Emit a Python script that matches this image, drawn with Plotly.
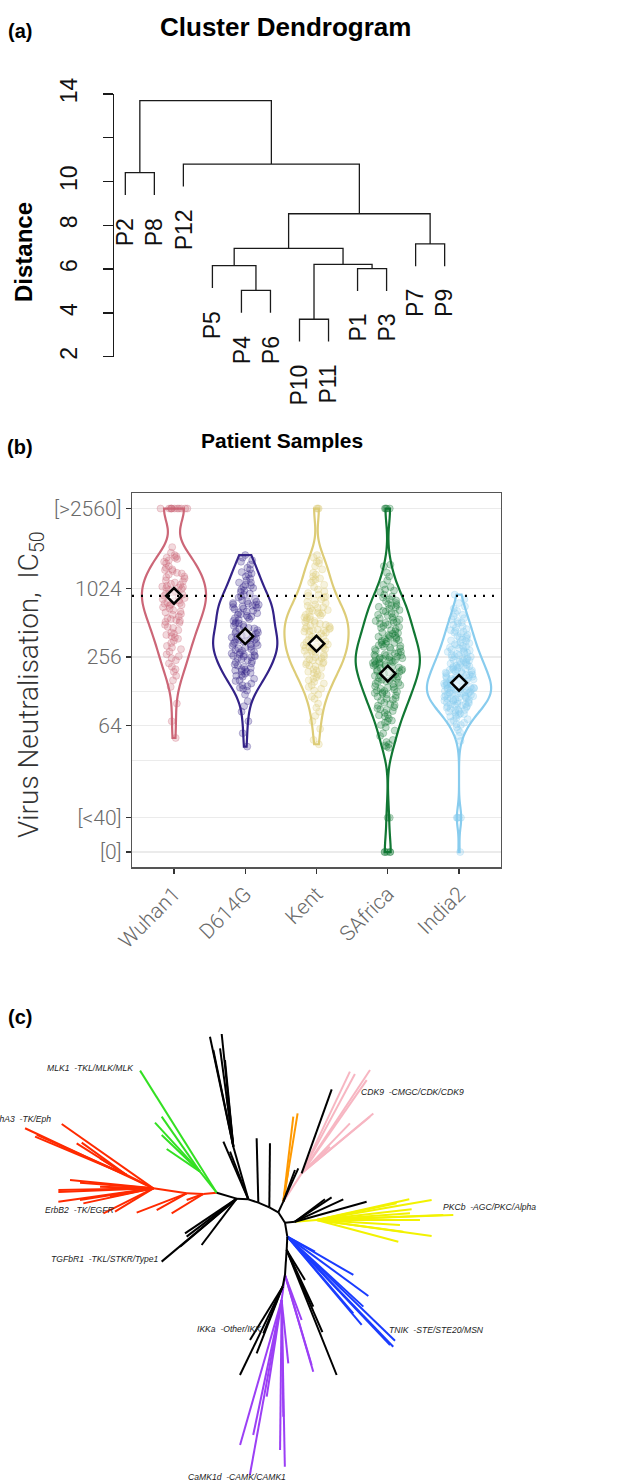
import math
import numpy as np
import plotly.graph_objects as go

W, H = 639, 1483

# ---------------- (a) Cluster dendrogram data ----------------
leaf_order = ["P2", "P8", "P12", "P5", "P4", "P6", "P10", "P11", "P1", "P3", "P7", "P9"]
merge_id = ["m1", "m2", "m3", "m4", "m5", "m6", "m7", "m8", "m9", "m10", "m11"]
merge_a = ["P4", "P10", "P1", "P7", "P5", "m2", "m5", "m7", "P12", "P2", "m10"]
merge_b = ["P6", "P11", "P3", "P9", "m1", "m3", "m6", "m4", "m8", "P8", "m9"]
merge_height = [5.03, 3.71, 6.02, 7.15, 6.16, 6.22, 6.95, 8.53, 10.80, 10.41, 13.70]
dist_ticks = [2, 4, 6, 8, 10, 14]
dist_tick_text = ["2", "4", "6", "8", "10", "14"]
dist_minor_ticks = [12]
HANG = 1.02

# ---------------- (b) Virus neutralisation data ----------------
variants = ["Wuhan1", "D614G", "Kent", "SAfrica", "India2"]
ic50_wuhan1 = [5120, 5120, 5120, 5120, 5120, 5120, 5120, 5120, 5120, 5120, 5120,
               2350, 2100, 1950, 1900, 1850, 2000, 1900, 1800, 1750, 1700, 1600, 1550, 1500, 1450, 1480,
               1400, 1380, 1350, 1300, 1280, 1250, 1200, 1180, 1150, 1120, 1100, 1080, 1060, 1050, 1040, 1030,
               1010, 990, 960, 940, 920, 900, 880, 860, 840, 820, 800, 790, 770, 760, 750, 740, 730,
               720, 700, 680, 660, 640, 630, 610, 600, 580, 560, 550, 540, 530, 520,
               510, 490, 470, 460, 440, 420, 410, 400, 390, 380, 370,
               355, 340, 320, 310, 300, 285, 270, 260, 250, 240, 225, 210, 200, 190,
               175, 160, 140, 100, 70, 50]
ic50_d614g = [2000, 1900, 1800, 1750, 1650, 1550, 1500,
              1420, 1380, 1350, 1300, 1250, 1200, 1150, 1150, 1100, 1080, 1050, 1030,
              1000, 980, 950, 920, 900, 870, 850, 830, 810, 790, 780, 760, 750, 740, 735, 728,
              720, 710, 700, 690, 680, 670, 650, 640, 630, 620, 610, 600, 590, 580, 570, 560, 550, 540, 530, 515,
              505, 500, 490, 480, 470, 460, 455, 450, 440, 430, 420, 415, 410, 400, 395, 390, 385, 380, 375, 370, 365, 363,
              360, 355, 350, 345, 340, 335, 330, 325, 320, 315, 310, 305, 300, 295, 290, 285, 280, 275, 270, 268, 265, 262, 260, 258,
              255, 250, 245, 240, 235, 230, 225, 220, 215, 210, 205, 200, 198, 195, 192, 190, 186, 183,
              178, 175, 172, 165, 160, 158, 150, 145, 142, 138, 135, 130, 120, 105, 95, 85, 70, 55, 42]
ic50_kent = [5120, 5120, 5120,
             2000, 1900, 1800, 1750, 1700, 1600, 1500, 1400, 1350, 1300, 1250, 1220,
             1200, 1150, 1100, 1050, 1000, 960, 930, 900, 880, 865,
             850, 820, 800, 780, 760, 740, 720, 700, 690, 680, 660, 650, 640, 630, 620, 612,
             600, 590, 580, 570, 560, 550, 540, 530, 520, 510, 500, 490, 480, 475, 470, 460, 455, 450, 445, 440, 436, 432,
             428, 420, 410, 400, 390, 385, 380, 370, 360, 350, 345, 340, 330, 325, 320, 315, 312, 310, 308, 305,
             300, 295, 290, 285, 280, 270, 265, 260, 255, 250, 245, 240, 235, 230, 228, 225, 220, 216,
             212, 205, 200, 195, 190, 185, 180, 175, 170, 165, 160, 155,
             150, 145, 140, 135, 130, 120, 115, 110, 100, 92, 85, 78, 70, 60, 48, 44]
ic50_safrica = [5120, 5120, 5120, 5120, 1650, 1600, 1400, 1300, 1200, 1100, 1050,
                1000, 980, 950, 900, 870, 850, 820, 800, 790, 760, 745, 730,
                720, 705, 700, 680, 660, 650, 640, 620, 610, 600, 590, 570, 560, 545, 540, 530, 520, 515,
                510, 500, 490, 480, 470, 460, 450, 440, 430, 420, 415, 410, 400, 395, 390, 385, 380, 375, 370, 365,
                360, 355, 350, 345, 340, 335, 330, 325, 320, 315, 310, 305, 300, 295, 290, 285, 280, 275, 270, 268, 265, 262, 260, 258,
                255, 252, 250, 247, 245, 242, 240, 237, 235, 232, 230, 227, 225, 222, 220, 217, 215, 212, 210, 207, 205, 200, 197, 195,
                192, 190, 187, 183,
                180, 177, 175, 172, 170, 168, 165, 162, 160, 157, 155, 152, 150, 148, 145, 142, 140, 138, 135, 133, 130, 129,
                127, 125, 124, 122, 120, 118, 115, 112, 110, 108, 106, 102, 99, 97, 96, 93, 91,
                89, 88, 86, 83, 80, 79, 77, 74, 71, 70, 68, 65, 62, 58, 55, 52, 48, 46, 44, 43, 42, 41,
                10, 10, 5, 5, 5, 5, 5]
ic50_india2 = [900, 820, 760,
               710, 680, 650, 620,
               600, 580, 560, 545, 530, 515,
               505, 490, 475, 462, 450, 440, 433,
               428, 420, 410, 400, 392, 385, 377, 370, 364,
               358, 352, 345, 338, 332, 326, 320, 315, 310, 306,
               302, 297, 292, 288, 284, 280, 276, 272, 268, 264, 260, 257,
               254, 251, 248, 245, 242, 239, 236, 233, 230, 227, 224, 221, 218, 216,
               214, 212, 210, 207, 205, 203, 201, 199, 197, 195, 193, 191, 189, 187, 185, 183,
               180, 178, 177, 175, 174, 172, 171, 169, 168, 166, 165, 163, 162, 160, 159, 157, 156, 154, 153,
               151, 150, 149, 147, 146, 145, 144, 142, 141, 140, 139, 138, 137, 136, 135, 134, 133, 132, 131, 130, 129,
               127, 126, 125, 124, 123, 122, 121, 120, 119, 118, 117, 116, 115, 114, 113, 112, 111, 110, 109, 108,
               107, 106, 105, 104, 103, 102, 101, 100, 99, 98, 97, 96, 95, 94, 93, 92,
               90, 89, 88, 87, 86, 85, 83, 82, 81, 80, 78, 77,
               75, 73, 71, 69, 68, 66, 65, 62, 59, 56, 52, 47,
               10, 10, 10, 10, 5]
ic50_groups = [ic50_wuhan1, ic50_d614g, ic50_kent, ic50_safrica, ic50_india2]
mean_ic50 = [880, 389, 335, 183, 152]
ic50_ticks = [5, 10, 64, 256, 1024, 5120]
ic50_tick_text = ["[0]", "[<40]", "64", "256", "1024", "[>2560]"]
ic50_minor = [32, 128, 512, 2048]
variant_colors = ["#CC6677", "#332288", "#DDCC77", "#117733", "#88CCEE"]

# ---------------- (c) Kinome tree data: (node, parent, angle deg, branch length) ----------------
branches_backbone = [
    ("B1", "B0", -16.7, 62.6), ("B2", "B1", -3.3, 35.1), ("B3", "B2", -18.4, 31.6),
    ("B4", "B3", -23.0, 35.8), ("B5", "B4", -29.1, 30.9), ("B6", "B5", -57.2, 36.9),
    ("B7", "B6", -80.5, 42.6), ("B8", "B7", -92.9, 40.0), ("B9", "B8", -93.8, 75.2),
    ("B10", "B9", -101.3, 35.7), ("T0", "B2", 105.9, 164.3), ("P0", "B5", 64.9, 35.3),
    ("Y0", "B6", 5.7, 30.1),
]
branches_tk = [
    ("R0", "B0", 185.7, 40.2), ("R1", "R0", 177.7, 50.0), ("R2", "R1", 171.5, 101.1), ("R3", "R2", 153.4, 89.4),
    ("r1", "R0", 211.4, 111.3), ("r2", "R0", 199.8, 53.1), ("r3", "R1", 201.1, 160.8), ("r4", "R1", 209.1, 103.0),
    ("r5", "R2", 206.6, 167.7), ("r6", "R2", 211.3, 134.6), ("r7", "R2", 154.9, 425.0), ("r8", "R2", 144.9, 336.0),
    ("r9", "R3", 157.3, 298.0), ("r10", "R3", 156.0, 295.5), ("r11", "R3", 147.7, 177.6), ("r12", "R3", 144.3, 166.2),
    ("r13", "R3", 148.0, 94.3), ("r14", "R2", 181.0, 285.0), ("r15", "R2", 182.2, 285.2), ("r16", "R2", 174.3, 251.2),
    ("r17", "R2", 175.6, 220.7), ("r18", "R2", 178.2, 160.0), ("r19", "R2", 188.0, 287.8), ("r20", "R2", 189.0, 222.8),
    ("r21", "R2", 192.1, 214.8), ("r22", "R2", 190.9, 132.4),
]
branches_mlk = [
    ("G0", "B0", 128.4, 80.4), ("g1", "B0", 122.1, 432.3), ("g2", "G0", 132.6, 199.6),
    ("g3", "G0", 124.9, 201.1), ("g4", "G0", 136.3, 159.1), ("g5", "G0", 145.8, 120.9),
]
branches_orange = [
    ("o1", "P0", 80.8, 268.5), ("o2", "P0", 83.3, 256.8), ("o3", "P0", 81.0, 96.2),
]
branches_cmgc = [
    ("P1", "P0", 57.1, 101.2), ("p1", "P1", 56.5, 371.7), ("p2", "P1", 64.6, 337.7), ("p3", "P1", 61.8, 338.2),
    ("p4", "P1", 55.1, 341.2), ("p5", "P1", 39.9, 280.4), ("p6", "P1", 39.7, 266.3), ("p7", "P1", 46.0, 208.6),
    ("p8", "P1", 43.3, 116.7),
]
branches_agc = [
    ("Y1", "Y0", 4.4, 65.2), ("y1", "Y1", 12.6, 284.8), ("y2", "Y1", 9.9, 350.2), ("y3", "Y1", 2.1, 410.3),
    ("y4", "Y1", 2.3, 380.3), ("y5", "Y1", -7.9, 348.3), ("y6", "Y1", -14.9, 253.5), ("y7", "Y1", -3.4, 250.4),
    ("y8", "Y1", 6.4, 286.8), ("y9", "Y1", 4.1, 280.7), ("y10", "Y1", 0.0, 310.0), ("y11", "Y1", 11.8, 245.2),
    ("y12", "Y1", -7.7, 262.3),
]
branches_ste = [
    ("s1", "B7", -28.5, 94.4), ("s2", "B7", -30.1, 229.0), ("s3", "B7", -36.2, 301.2), ("s4", "B7", -46.1, 458.3),
    ("s5", "B7", -46.5, 447.8), ("s6", "B7", -44.0, 449.1), ("s7", "B7", -49.9, 346.3), ("s8", "B7", -42.6, 310.0),
    ("s9", "B7", -49.3, 303.5),
]
branches_camk = [
    ("U0", "B9", -97.6, 75.7), ("u1", "U0", -106.0, 452.6), ("u2", "U0", -100.3, 533.5), ("u3", "U0", -88.9, 500.1),
    ("u4", "U0", -101.9, 413.8), ("u5", "U0", -98.8, 293.5), ("u6", "U0", -89.2, 350.0), ("u7", "U0", -84.0, 191.0),
    ("u8", "U0", -90.6, 450.0), ("u9", "B9", -73.7, 302.2), ("u10", "B9", -73.5, 281.6), ("u11", "B9", -69.7, 144.0),
]
branches_other = [
    ("t1", "T0", 102.0, 337.3), ("t2", "T0", 95.9, 339.8), ("t3", "T0", 101.7, 296.1), ("t4", "T0", 97.7, 297.7),
    ("t5", "T0", 95.5, 261.2), ("t6", "T0", 97.6, 151.3), ("t7", "B2", 113.4, 188.6), ("t8", "B2", 111.0, 153.2),
    ("v1", "B3", 91.5, 193.1), ("v2", "B4", 89.4, 192.0),
    ("k1", "P1", 70.3, 267.6), ("k2", "P0", 65.8, 109.7), ("k3", "P0", 69.8, 101.2),
    ("k4", "Y0", 33.6, 132.0), ("k5", "Y0", 24.8, 159.7), ("k6", "Y0", 15.6, 223.2), ("k7", "Y0", 36.7, 112.2),
    ("k8", "B8", -68.2, 403.9), ("k9", "B8", -58.6, 105.5), ("k10", "B8", -64.8, 187.9), ("k11", "B8", -66.5, 269.0),
    ("k12", "B10", -115.8, 294.3), ("k13", "B10", -121.5, 187.6), ("k14", "B10", -111.3, 214.7), ("k15", "B10", -112.5, 151.5),
    ("k16", "B1", 220.0, 293.8), ("k17", "B1", 232.9, 174.2), ("k18", "B1", 220.3, 222.8), ("k19", "B1", 213.9, 186.7),
    ("k20", "B1", 217.2, 188.4),
]
tree_labels = ["MLK1 \u00a0-TKL/MLK/MLK", "EphA3 \u00a0-TK/Eph", "ErbB2 \u00a0-TK/EGFR", "TGFbR1 \u00a0-TKL/STKR/Type1",
               "CDK9 \u00a0-CMGC/CDK/CDK9", "PKCb \u00a0-AGC/PKC/Alpha", "TNIK \u00a0-STE/STE20/MSN",
               "IKKa \u00a0-Other/IKK", "CaMK1d \u00a0-CAMK/CAMK1"]

# ---------------- layout / style constants ----------------
TREE_ROOT = (650.0, 578.0)
tree_label_pos = [(407, 205, "right"), (158, 358, "right"), (128, 630, "left"), (148, 776, "left"),
                  (1078, 275, "left"), (1322, 622, "left"), (1160, 990, "left"), (585, 988, "left"),
                  (558, 1432, "left")]
tree_groups = [
    (branches_tk, "#ff2a00"), (branches_mlk, "#33e022"), (branches_orange, "#ff9900"),
    (branches_cmgc, "#f7b6c2"), (branches_agc, "#f2f200"), (branches_ste, "#1a3cff"),
    (branches_camk, "#9b3ff5"), (branches_backbone, "#000000"), (branches_other, "#000000"),
]


def rgba(hexc, a):
    h = hexc.lstrip("#")
    return "rgba(%d,%d,%d,%.2f)" % (int(h[0:2], 16), int(h[2:4], 16), int(h[4:6], 16), a)


def bw_nrd0(v):
    v = np.asarray(v, dtype=float)
    sd = v.std(ddof=1)
    q75, q25 = np.percentile(v, [75, 25])
    lo = min(sd, (q75 - q25) / 1.34)
    return 0.9 * lo * len(v) ** -0.2


fig = go.Figure()

# ---------------- (a) build dendrogram ----------------
xpos = {lab: i + 1 for i, lab in enumerate(leaf_order)}
mtop = {}
for m, a, b, h in zip(merge_id, merge_a, merge_b, merge_height):
    xpos[m] = (xpos[a] + xpos[b]) / 2.0
    mtop[m] = h
leaf_bottom = {}
for m, a, b, h in zip(merge_id, merge_a, merge_b, merge_height):
    for c in (a, b):
        if c not in mtop:
            leaf_bottom[c] = h - HANG
dx, dy = [], []
for m, a, b, h in zip(merge_id, merge_a, merge_b, merge_height):
    ya = mtop.get(a, leaf_bottom.get(a))
    yb = mtop.get(b, leaf_bottom.get(b))
    dx += [xpos[a], xpos[a], xpos[b], xpos[b], None]
    dy += [ya, h, h, yb, None]
fig.add_trace(go.Scatter(x=dx, y=dy, mode="lines", line=dict(color="#1a1a1a", width=1.3),
                         xaxis="x", yaxis="y", hoverinfo="skip", showlegend=False))
for lab in leaf_order:
    fig.add_annotation(x=xpos[lab], y=leaf_bottom[lab], xref="x", yref="y", text=lab, textangle=-90,
                       showarrow=False, xanchor="center", yanchor="top", yshift=-21,
                       font=dict(family="Liberation Sans, Arial", size=23, color="#111111"))

# ---------------- (b) violins ----------------
for name, vals, col in zip(variants, ic50_groups, variant_colors):
    lv = np.log2(np.asarray(vals, dtype=float))
    fig.add_trace(go.Violin(
        x=[name] * len(lv), y=lv, xaxis="x2", yaxis="y2", name=name, width=0.9,
        scalegroup="all", scalemode="width", spanmode="hard", bandwidth=bw_nrd0(lv),
        points="all", pointpos=0, jitter=0.47,
        line=dict(color=col, width=2.2), fillcolor="rgba(0,0,0,0)",
        marker=dict(size=7, color=rgba(col, 0.25), line=dict(width=0.8, color=rgba(col, 0.35))),
        box_visible=False, meanline_visible=False, hoverinfo="skip", showlegend=False))
fig.add_trace(go.Scatter(x=variants, y=np.log2(mean_ic50), mode="markers", xaxis="x2", yaxis="y2",
                         marker=dict(symbol="diamond", size=12, color="rgba(255,255,255,0.55)",
                                     line=dict(color="black", width=2.5)),
                         hoverinfo="skip", showlegend=False))
fig.add_shape(type="line", xref="x2 domain", yref="y2", x0=0, x1=1,
              y0=math.log2(mean_ic50[0]), y1=math.log2(mean_ic50[0]),
              line=dict(color="black", width=2.2, dash="2px,7px"))

# ---------------- (c) tree ----------------
pos = {"B0": TREE_ROOT}
all_lists = [branches_backbone, branches_tk, branches_mlk, branches_orange, branches_cmgc,
             branches_agc, branches_ste, branches_camk, branches_other]
for lst in all_lists:
    for node, parent, ang, ln in lst:
        px, py = pos[parent]
        r = math.radians(ang)
        pos[node] = (px + ln * math.cos(r), py - ln * math.sin(r))
for lst, col in tree_groups:
    tx, ty = [], []
    for node, parent, ang, ln in lst:
        tx += [pos[parent][0], pos[node][0], None]
        ty += [pos[parent][1], pos[node][1], None]
    fig.add_trace(go.Scatter(x=tx, y=ty, mode="lines", line=dict(color=col, width=2),
                             xaxis="x3", yaxis="y3", hoverinfo="skip", showlegend=False))
for txt, (lx, ly, anc) in zip(tree_labels, tree_label_pos):
    fig.add_annotation(x=lx, y=ly, xref="x3", yref="y3", text=txt, showarrow=False,
                       xanchor=anc, yanchor="middle",
                       font=dict(family="Liberation Sans, Arial", size=8.6, color="#222222", style="italic"))


# ---------------- panel titles ----------------
def pxx(x):
    return x / W


def pxy(y):
    return 1 - y / H


bold = dict(family="Liberation Sans, Arial", color="#000000", weight="bold")
for txt, x, y, sz, ang in [("(a)", 20, 31, 20, 0), ("Cluster Dendrogram", 285, 27, 26, 0),
                           ("Distance", 24, 252, 24, -90), ("Patient Samples", 282, 440, 21, 0),
                           ("(b)", 20, 447, 20, 0), ("(c)", 20, 1017, 20, 0)]:
    fig.add_annotation(x=pxx(x), y=pxy(y), xref="paper", yref="paper", text=txt, showarrow=False,
                       textangle=ang, xanchor="center", yanchor="middle", font=dict(bold, size=sz))
fig.add_annotation(x=pxx(30), y=pxy(685), xref="paper", yref="paper",
                   text="Virus Neutralisation, \u00a0IC<sub>50</sub>", showarrow=False, textangle=-90,
                   xanchor="center", yanchor="middle",
                   font=dict(family="Roboto, Liberation Sans", size=28, color="#333333", weight=300))

light = dict(family="Roboto, Liberation Sans", size=21, color="#6a6a6a", weight=300)
fig.update_layout(
    width=W, height=H, margin=dict(l=0, r=0, t=0, b=0, autoexpand=False),
    paper_bgcolor="white", plot_bgcolor="white", showlegend=False, violinmode="overlay",
    xaxis=dict(domain=[0, 1], range=[-3.317, 18.695], visible=False, anchor="y", automargin=False),
    yaxis=dict(domain=[pxy(356.7), pxy(94.0)], range=[2, 14], anchor="free", position=113 / W,
               automargin=False,
               tickvals=dist_ticks, ticktext=dist_tick_text, tickangle=-90, ticks="outside",
               ticklen=10, tickwidth=1.3, tickcolor="#1a1a1a", showline=True, linecolor="#1a1a1a",
               linewidth=1.3, showgrid=False, zeroline=False, ticklabelstandoff=17,
               minor=dict(tickvals=dist_minor_ticks, ticks="outside", ticklen=10, tickwidth=1.3,
                          tickcolor="#1a1a1a", showgrid=False),
               tickfont=dict(family="Liberation Sans, Arial", size=23, color="#111111")),
    xaxis2=dict(domain=[132 / W, 501 / W], anchor="y2", type="category", categoryorder="array",
                automargin=False,
                categoryarray=variants, range=[-0.589, 4.589], showline=True, mirror=True,
                linecolor="#555555", linewidth=1.2, ticks="outside", ticklen=5, tickwidth=1.3,
                tickcolor="#333333", tickangle=-45, showgrid=False, zeroline=False, tickfont=light),
    yaxis2=dict(domain=[pxy(867.3), pxy(492.7)], anchor="x2", range=[1.878, 12.783], automargin=False,
                tickvals=list(np.log2(ic50_ticks)), ticktext=ic50_tick_text, showline=True, mirror=True,
                linecolor="#555555", linewidth=1.2, ticks="outside", ticklen=5, tickwidth=1.3,
                tickcolor="#333333", showgrid=True, gridcolor="#ebebeb", gridwidth=1.3, zeroline=False,
                minor=dict(tickvals=list(np.log2(ic50_minor)), showgrid=True, gridcolor="#ebebeb",
                           gridwidth=1.0, ticks=""),
                tickfont=light),
    xaxis3=dict(domain=[0, 1], range=[0, 1917], visible=False, anchor="y3", automargin=False),
    yaxis3=dict(domain=[0, pxy(1000)], range=[1449, 0], visible=False, anchor="x3", automargin=False),
)

fig.write_html("out.html", config={"displayModeBar": False, "staticPlot": True},
               post_script="document.body.style.margin='0px';document.body.style.overflow='hidden';")
